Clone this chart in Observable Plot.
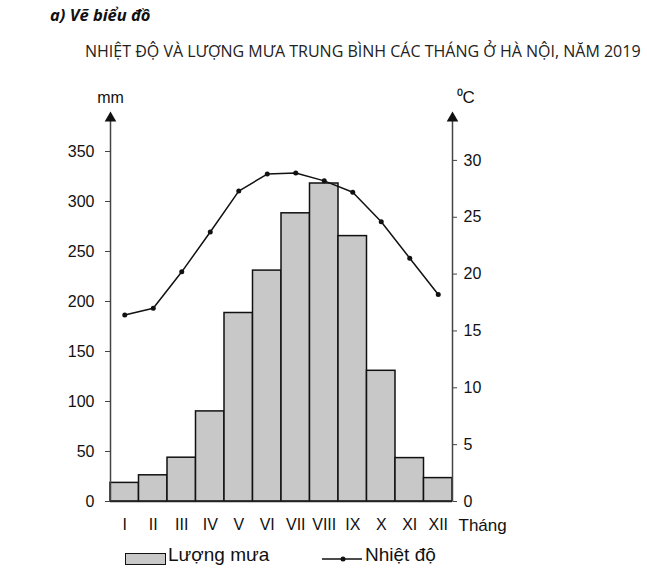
<!DOCTYPE html>
<html>
<head>
<meta charset="utf-8">
<script src="https://cdn.jsdelivr.net/npm/d3@7"></script>
<script src="https://cdn.jsdelivr.net/npm/@observablehq/plot@0.6"></script>
<style>
  html, body { margin: 0; padding: 0; background: #fff; overflow: hidden; }
  body { width: 647px; height: 584px; position: relative; }
  #t1 { position: absolute; left: 50px; top: 3px; font: italic 700 16.5px "Open Sans", sans-serif; color: #111; }
  #t2 { position: absolute; left: 85px; top: 40px; font: 400 16px "Open Sans", sans-serif; color: #222; white-space: nowrap; }
  #chart { position: absolute; left: 0; top: 80px; }
  #legend { position: absolute; left: 0; top: 544px; width: 647px; height: 30px; font: 19px "Liberation Sans", Arial, sans-serif; color: #111; }
  .lg { position: absolute; top: 0; white-space: nowrap; }
</style>
</head>
<body>
<div id="t1">a) Vẽ biểu đồ</div>
<div id="t2">NHIỆT ĐỘ VÀ LƯỢNG MƯA TRUNG BÌNH CÁC THÁNG Ở HÀ NỘI, NĂM 2019</div>
<div id="chart"></div>
<div id="legend">
  <span class="lg" style="left:125px;top:9px;width:39px;height:10px;background:#c8c8c8;border:1.5px solid #111;"></span>
  <span class="lg" style="left:168px;top:0px;">Lượng mưa</span>
  <svg class="lg" style="left:320px;top:8px" width="44" height="14"><line x1="2" y1="7" x2="42" y2="7" stroke="#111" stroke-width="1.5"/><circle cx="23" cy="7" r="2.5" fill="#111"/></svg>
  <span class="lg" style="left:365px;top:0px;">Nhiệt độ</span>
</div>
<script>
const months = ["I", "II", "III", "IV", "V", "VI", "VII", "VIII", "IX", "X", "XI", "XII"];
const rain = [18.6, 26.2, 43.8, 90.1, 188.5, 230.9, 288.2, 318.0, 265.4, 130.7, 43.4, 23.4];
const temp = [16.4, 17.0, 20.2, 23.7, 27.3, 28.8, 28.9, 28.2, 27.2, 24.6, 21.4, 18.2];
const mmTicks = [0, 50, 100, 150, 200, 250, 300, 350];
const tempTicks = [0, 5, 10, 15, 20, 25, 30];

const k = 11.37; // mm per °C on the shared vertical scale
const data = months.map((m, j) => ({i: j + 1, month: m, rain: rain[j], temp: temp[j]}));
const yTop = 390;
const font = '"Liberation Sans", Arial, sans-serif';

const chart = Plot.plot({
  width: 647,
  height: 460,
  marginLeft: 110,
  marginRight: 195,
  marginTop: 31,
  marginBottom: 39,
  style: {fontFamily: font, color: "#111", background: "#fff", overflow: "visible"},
  x: {domain: [0.5, 12.5]},
  y: {domain: [0, yTop]},
  marks: [
    Plot.rectY(data, {x1: d => d.i - 0.5, x2: d => d.i + 0.5, y1: 0, y2: "rain", fill: "#c8c8c8", stroke: "#111", strokeWidth: 1.5}),
    Plot.ruleX([0.5], {y1: 0, y2: yTop - 8, stroke: "#444", strokeWidth: 1.5}),
    Plot.ruleX([12.5], {y1: 0, y2: yTop - 8, stroke: "#444", strokeWidth: 1.5}),
    Plot.ruleY([0], {x1: 0.5, x2: 12.5, stroke: "#222", strokeWidth: 1.5}),
    Plot.dot([0.5, 12.5], {x: d => d, y: yTop, symbol: "triangle", r: 4.3, dy: 6.6, fill: "#111", stroke: "none"}),
    Plot.axisY({anchor: "left", label: null, ticks: mmTicks, tickSize: 5, tickPadding: 11, fontSize: 16, tickFormat: d => String(d), stroke: "#444"}),
    Plot.axisY({anchor: "right", label: null, ticks: tempTicks.map(t => t * k), tickSize: 4, tickPadding: 7, fontSize: 16, tickFormat: d => String(Math.round(d / k)), stroke: "#444"}),
    Plot.axisX({label: null, ticks: data.map(d => d.i), tickFormat: d => months[d - 1], tickSize: 0, tickPadding: 17, fontSize: 16}),
    Plot.text(["Tháng"], {x: 12.5, y: 0, dx: 6, dy: 24, textAnchor: "start", fontSize: 17, fill: "#111"}),
    Plot.text(["mm"], {x: 0.5, y: yTop, dy: -14, fontSize: 16, fill: "#111"}),
    Plot.text(["⁰C"], {x: 12.5, y: yTop, dy: -14, dx: 4, textAnchor: "start", fontSize: 17, fill: "#111"}),
    Plot.line(data, {x: "i", y: d => d.temp * k, stroke: "#111", strokeWidth: 1.5}),
    Plot.dot(data, {x: "i", y: d => d.temp * k, r: 2.5, fill: "#111", stroke: "none"})
  ]
});
document.getElementById("chart").appendChild(chart);
</script>
</body>
</html>
